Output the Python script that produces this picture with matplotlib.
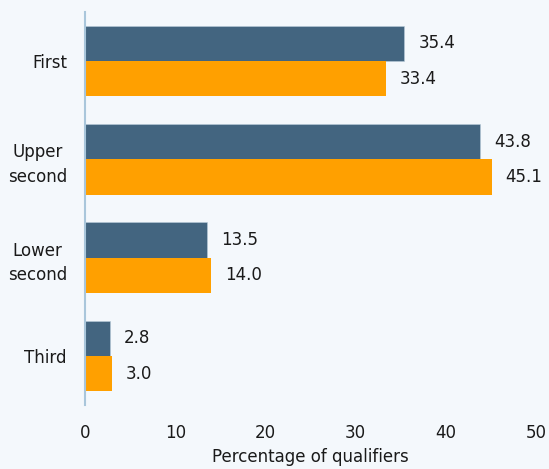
import numpy as np
import matplotlib.pyplot as plt

categories = ['First', 'Upper\nsecond', 'Lower\nsecond', 'Third']
series_a = [35.4, 43.8, 13.5, 2.8]   # dark bars
series_b = [33.4, 45.1, 14.0, 3.0]   # orange bars

bg = '#F4F8FC'
c_a = '#436580'
c_b = '#FFA000'
h = 0.36
fs = 12

fig = plt.figure(figsize=(5.49, 4.69), dpi=100, facecolor=bg)
ax = fig.add_axes([85/549, 1 - 405/469, 451/549, 393/469], facecolor=bg)

y = np.arange(len(categories))
ax.barh(y - h/2, series_a, height=h, color=c_a, edgecolor='#B8CCDA', linewidth=0.4)
ax.barh(y + h/2, series_b, height=h, color=c_b)

for yi, v in zip(y, series_a):
    ax.annotate(f'{v:.1f}', (v, yi - h/2), xytext=(10, 0), textcoords='offset points',
                va='center', ha='left', fontsize=fs, color='#1a1a1a')
for yi, v in zip(y, series_b):
    ax.annotate(f'{v:.1f}', (v, yi + h/2), xytext=(10, 0), textcoords='offset points',
                va='center', ha='left', fontsize=fs, color='#1a1a1a')

ax.set_xlim(0, 50)
ax.set_ylim(3.5, -0.5)
ax.set_yticks(y)
ax.set_yticklabels(categories, fontsize=fs, color='#1a1a1a', multialignment='center',
                   linespacing=1.45)
ax.set_xticks([0, 10, 20, 30, 40, 50])
ax.tick_params(axis='x', labelsize=fs, colors='#1a1a1a', length=0, pad=14)
ax.tick_params(axis='y', length=0, pad=13)
ax.set_xlabel('Percentage of qualifiers', fontsize=fs, color='#1a1a1a', labelpad=4)

for s in ['top', 'right', 'bottom']:
    ax.spines[s].set_visible(False)
ax.spines['left'].set_color('#A9C6DB')
ax.spines['left'].set_linewidth(1.5)

fig.savefig('out.png', dpi=100, facecolor=bg)
